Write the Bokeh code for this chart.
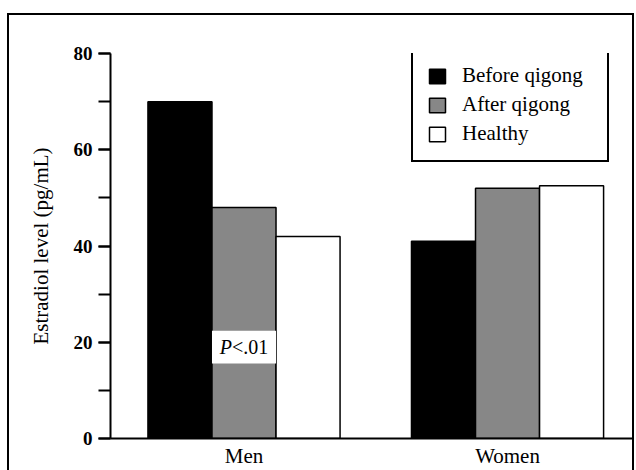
from bokeh.plotting import figure
from bokeh.models import SingleIntervalTicker, FixedTicker
from bokeh.core.properties import value
from bokeh.embed import file_html
from bokeh.resources import INLINE

# ---- data ----
categories = ["Men", "Women"]
series = ["Before qigong", "After qigong", "Healthy"]
before = [70, 41]
after = [48, 52]
healthy = [42, 52.5]
y_label = "Estradiol level (pg/mL)"
p_text_italic = "P"
p_text_rest = "<.01"

FONT = "Liberation Serif"
xs = [i + 1 for i in range(len(categories))]
w = 0.243

p = figure(width=627, height=457, output_backend="svg", toolbar_location=None,
           x_range=(0.4934, 2.478), y_range=(0, 80),
           min_border_left=103, min_border_right=1, min_border_top=40, min_border_bottom=31,
           styles={"box-shadow": "inset 2px 2px 0 0 black, inset -2px 0 0 0 black",
                   "margin-top": "13px", "margin-left": "7px"})
p.border_fill_color = None
p.background_fill_color = None
p.outline_line_color = None
p.xgrid.visible = False
p.ygrid.visible = False

fills = ["black", "#878787", "white"]
vals = [before, after, healthy]
offsets = [-w, 0.0, w]
for name, v, off, fc in zip(series, vals, offsets, fills):
    p.vbar(x=[x + off for x in xs], top=v, bottom=0, width=w,
           fill_color=fc, line_color="black", line_width=1.5, legend_label=name)

# P<.01 annotation box on the Men "after" bar
p.quad(left=[xs[0] - w / 2], right=[xs[0] + w / 2], bottom=[15.6], top=[22.4],
       fill_color="white", line_color=None)
p.text(x=[xs[0]], y=[19], text=[p_text_italic], x_offset=-12,
       text_align="right", text_baseline="middle",
       text_font=value(FONT), text_font_size="20px", text_font_style="italic", text_color="black")
p.text(x=[xs[0]], y=[19], text=[p_text_rest], x_offset=-12,
       text_align="left", text_baseline="middle",
       text_font=value(FONT), text_font_size="20px", text_color="black")

# y axis
ya = p.yaxis[0]
ya.ticker = SingleIntervalTicker(interval=20, num_minor_ticks=2)
ya.axis_line_width = 2
ya.major_tick_line_width = 2
ya.minor_tick_line_width = 2
ya.major_tick_out = 12
ya.major_tick_in = 0
ya.minor_tick_out = 12
ya.minor_tick_in = 0
ya.major_label_standoff = 6
ya.major_label_text_font = FONT
ya.major_label_text_font_size = "19px"
ya.major_label_text_font_style = "bold"
ya.major_label_text_color = "black"
ya.axis_label = y_label
ya.axis_label_text_font = FONT
ya.axis_label_text_font_size = "21px"
ya.axis_label_text_font_style = "normal"
ya.axis_label_text_color = "black"
ya.axis_label_standoff = 18

# x axis
xa = p.xaxis[0]
xa.ticker = FixedTicker(ticks=xs)
xa.major_label_overrides = {x: c for x, c in zip(xs, categories)}
xa.axis_line_width = 2
xa.major_tick_line_color = None
xa.minor_tick_line_color = None
xa.major_tick_out = 0
xa.major_tick_in = 0
xa.major_label_standoff = 5
xa.major_label_text_font = FONT
xa.major_label_text_font_size = "21px"
xa.major_label_text_color = "black"

# legend
lg = p.legend[0]
lg.location = (301, 276)
lg.glyph_width = 20
lg.glyph_height = 18
lg.label_standoff = 15
lg.padding = 14
lg.spacing = 4
lg.label_height = 24
lg.label_width = 131
lg.border_line_color = "black"
lg.border_line_width = 2
lg.border_line_alpha = 1
lg.background_fill_color = "white"
lg.background_fill_alpha = 1
lg.label_text_font = FONT
lg.label_text_font_size = "21px"
lg.label_text_color = "black"
lg.margin = 0

open("out.html", "w").write(file_html(p, INLINE))
